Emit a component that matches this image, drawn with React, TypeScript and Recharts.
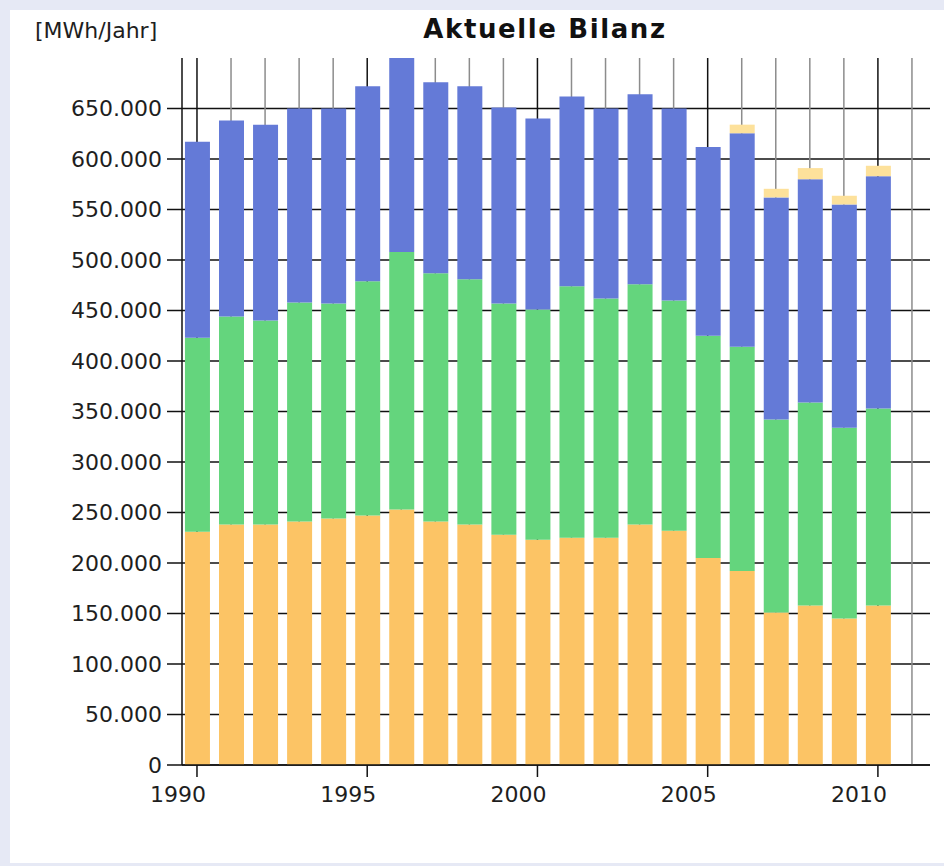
import { Bar, BarChart, CartesianGrid, XAxis, YAxis } from "recharts";

// Jahreswerte in MWh
const years = [
  1990, 1991, 1992, 1993, 1994, 1995, 1996, 1997, 1998, 1999, 2000, 2001,
  2002, 2003, 2004, 2005, 2006, 2007, 2008, 2009, 2010,
];
const orangeValues = [
  231000, 238000, 238000, 241000, 244000, 247000, 253000, 241000, 238000,
  228000, 223000, 225000, 225000, 238000, 232000, 205000, 192000, 151000,
  158000, 145000, 158000,
];
const greenValues = [
  192000, 206000, 202000, 217000, 213000, 232000, 255000, 246000, 243000,
  229000, 228000, 249000, 237000, 238000, 228000, 220000, 222000, 191000,
  201000, 189000, 195000,
];
const blueValues = [
  194000, 194000, 194000, 192000, 193000, 193000, 192000, 189000, 191000,
  194000, 189000, 188000, 188000, 188000, 190000, 187000, 211500, 220000,
  221000, 221000, 230000,
];
const creamValues = [
  0, 0, 0, 0, 0, 0, 0, 0, 0, 0, 0, 0, 0, 0, 0, 0, 8500, 8500, 11000, 8600,
  10300,
];

const yTicks = [
  0, 50000, 100000, 150000, 200000, 250000, 300000, 350000, 400000, 450000,
  500000, 550000, 600000, 650000,
];
const majorYears = [1990, 1995, 2000, 2005, 2010];
const minorYears = [
  1991, 1992, 1993, 1994, 1996, 1997, 1998, 1999, 2001, 2002, 2003, 2004,
  2006, 2007, 2008, 2009, 2011,
];

const data = years.map((year, i) => ({
  year,
  orange: orangeValues[i],
  green: greenValues[i],
  blue: blueValues[i],
  cream: creamValues[i],
}));

const font = "'DejaVu Sans', Verdana, sans-serif";

const formatThousands = (v: number) =>
  String(v).replace(/\B(?=(\d{3})+(?!\d))/g, ".");

function YearTick(props: any) {
  const { x, y, payload } = props;
  return (
    <text
      x={x - 19}
      y={y}
      dy="0.71em"
      textAnchor="middle"
      fill="#1e1e1e"
      fontSize={22}
      fontFamily={font}
    >
      {payload.value}
    </text>
  );
}

export default function App() {
  return (
    <div
      style={{
        position: "absolute",
        left: 0,
        top: 0,
        width: 944,
        height: 866,
        background: "#e6e9f5",
      }}
    >
      <div
        style={{
          position: "absolute",
          left: 10,
          top: 10,
          width: 934,
          height: 853,
          background: "#ffffff",
        }}
      />
      <div style={{ position: "absolute", left: 0, top: 0 }}>
        <BarChart
          width={944}
          height={866}
          data={data}
          margin={{ top: 58, right: 14, bottom: 0, left: 0 }}
        >
          <CartesianGrid
            vertical={false}
            syncWithTicks
            stroke="#111"
            strokeWidth={1.5}
          />
          <CartesianGrid
            horizontal={false}
            verticalValues={minorYears}
            stroke="#8c8c8c"
            strokeWidth={1.5}
          />
          <CartesianGrid
            horizontal={false}
            syncWithTicks
            stroke="#111"
            strokeWidth={1.5}
          />
          <XAxis
            dataKey="year"
            type="number"
            domain={[1989.56, 2011.53]}
            allowDataOverflow
            ticks={majorYears}
            interval={0}
            height={101}
            tickSize={12}
            tickMargin={9}
            axisLine={{ stroke: "#111", strokeWidth: 1.5 }}
            tickLine={{ stroke: "#111", strokeWidth: 1.5 }}
            tick={<YearTick />}
          />
          <YAxis
            type="number"
            domain={[0, 700000]}
            allowDataOverflow
            ticks={yTicks}
            interval={0}
            width={182}
            tickSize={15}
            tickMargin={5}
            tickFormatter={formatThousands}
            axisLine={{ stroke: "#111", strokeWidth: 1.5 }}
            tickLine={{ stroke: "#111", strokeWidth: 1.5 }}
            tick={{ fill: "#1e1e1e", fontSize: 22, fontFamily: font }}
          />
          <Bar dataKey="orange" stackId="a" fill="#fcc465" barSize={25} isAnimationActive={false} />
          <Bar dataKey="green" stackId="a" fill="#64d57d" barSize={25} isAnimationActive={false} />
          <Bar dataKey="blue" stackId="a" fill="#647ad7" barSize={25} isAnimationActive={false} />
          <Bar dataKey="cream" stackId="a" fill="#fde19b" barSize={25} isAnimationActive={false} />
        </BarChart>
      </div>
      <svg
        width={944}
        height={866}
        style={{ position: "absolute", left: 0, top: 0, pointerEvents: "none" }}
      >
        <text x={35} y={38} fontSize={22} fontFamily={font} fill="#1e1e1e">
          [MWh/Jahr]
        </text>
        <text
          x={545}
          y={38}
          textAnchor="middle"
          fontSize={26}
          fontWeight="bold"
          letterSpacing={1.6}
          fontFamily={font}
          fill="#111"
        >
          Aktuelle Bilanz
        </text>
      </svg>
    </div>
  );
}
